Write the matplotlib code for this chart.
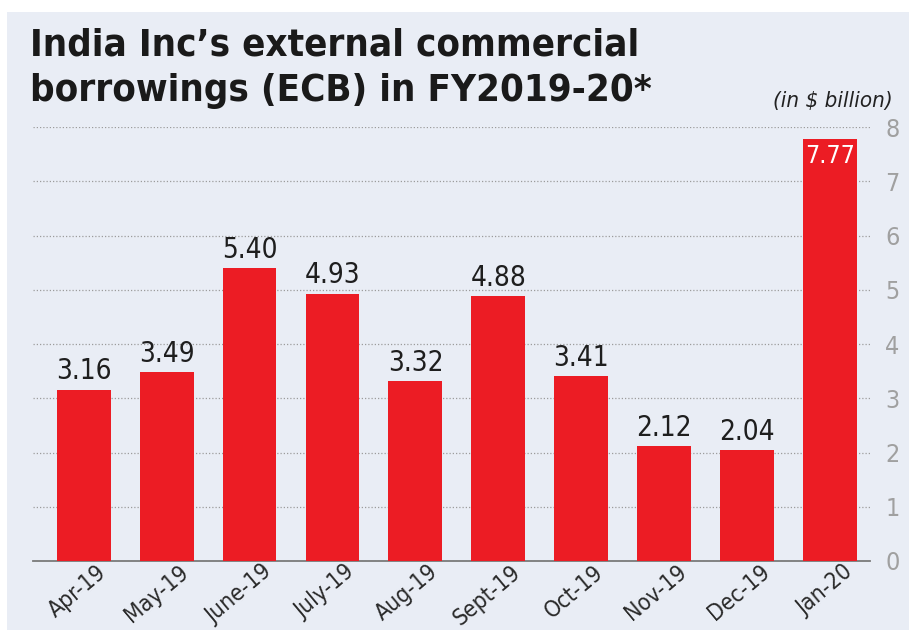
import matplotlib.pyplot as plt
import matplotlib.transforms as mtransforms
from matplotlib.patches import Rectangle
import numpy as np

# ECB inflows by month, FY2019-20 ($ billion)
months = ['Apr-19', 'May-19', 'June-19', 'July-19', 'Aug-19', 'Sept-19',
          'Oct-19', 'Nov-19', 'Dec-19', 'Jan-20']
ecb = [3.16, 3.49, 5.40, 4.93, 3.32, 4.88, 3.41, 2.12, 2.04, 7.77]
yticks = [0, 1, 2, 3, 4, 5, 6, 7, 8]

bg = '#e9edf5'
red = '#ec1c24'
W, H = 909, 635

plt.rcParams['font.family'] = ['DejaVu Sans']

fig = plt.figure(figsize=(W / 100, H / 100), dpi=100, facecolor='white')

# light panel behind everything
fig.patches.append(Rectangle((7 / W, 1 - 630 / H), 1 - 7 / W, (630 - 12) / H,
                             transform=fig.transFigure, facecolor=bg,
                             edgecolor='none', zorder=-5))

ax = fig.add_axes([33 / W, 1 - 561 / H, (870 - 33) / W, (561 - 127) / H])
ax.set_facecolor('none')
ax.set_zorder(2)

x = np.arange(len(months))
bars = ax.bar(x, ecb, width=0.65, color=red, zorder=3)

ax.set_xlim(-0.61, 9.48)
ax.set_ylim(0, 8)

for s in ['top', 'left', 'right']:
    ax.spines[s].set_visible(False)
ax.spines['bottom'].set_color('#7a7a7a')
ax.spines['bottom'].set_linewidth(1.3)

ax.yaxis.tick_right()
ax.set_yticks(yticks)
ax.set_yticklabels([str(t) for t in yticks], fontsize=18, color='#a0a0a0',
                   stretch='condensed')
ax.tick_params(axis='y', length=0, pad=11)
ax.grid(axis='y', color='#9c9c9c', linestyle=(0, (1, 1.6)), linewidth=0.9,
        zorder=1)

ax.set_xticks(x)
ax.set_xticklabels(months, rotation=40, ha='right', va='top',
                   rotation_mode='anchor', fontsize=16.5, color='#2a2a2a',
                   stretch='condensed')
ax.tick_params(axis='x', length=0, pad=1)
shift = mtransforms.ScaledTranslation(0.12, 0.02, fig.dpi_scale_trans)
for lbl in ax.get_xticklabels():
    lbl.set_transform(lbl.get_transform() + shift)

# value labels; the tallest bar carries its label inside
top = max(ecb)
for xi, v in zip(x, ecb):
    if v == top:
        ax.annotate(f'{v:.2f}', (xi, v), xytext=(0, -3),
                    textcoords='offset points', ha='center', va='top',
                    fontsize=18, color='white', stretch='condensed', zorder=4)
    else:
        ax.annotate(f'{v:.2f}', (xi, v), xytext=(0, 3),
                    textcoords='offset points', ha='center', va='bottom',
                    fontsize=20, color='#1e1e1e', stretch='condensed',
                    zorder=4)

fig.text(30 / W, 1 - 28 / H,
         "India Inc\u2019s external commercial\nborrowings (ECB) in FY2019-20*",
         ha='left', va='top', fontsize=27.5, fontweight='bold',
         stretch='condensed', color='#1a1a1a', linespacing=1.32)
fig.text(893 / W, 1 - 107 / H, '(in $ billion)', ha='right', va='baseline',
         fontsize=16, style='italic', color='#222222', stretch='condensed')

fig.savefig('out.png', dpi=100, facecolor='white')
